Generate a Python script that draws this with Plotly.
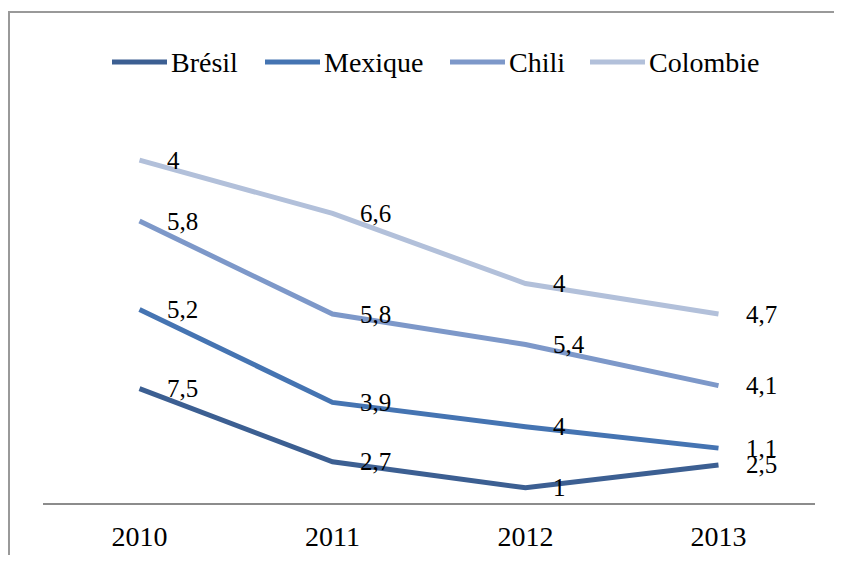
import numpy as np
import plotly.graph_objects as go

years = ["2010", "2011", "2012", "2013"]
series_names = ["Brésil", "Mexique", "Chili", "Colombie"]
bresil = [7.5, 2.7, 1, 2.5]
mexique = [5.2, 3.9, 4, 1.1]
chili = [5.8, 5.8, 5.4, 4.1]
colombie = [4, 6.6, 4, 4.7]
colors = ["#3C5F92", "#4574B2", "#7D98C9", "#B2C0DA"]

values = [bresil, mexique, chili, colombie]
cum = np.cumsum(np.array(values, dtype=float), axis=0)

FONT = "Liberation Serif"
W, H = 826, 547
L, R, T, B = 35, 19, 114, 52
pw, ph = W - L - R, H - T - B


def px(xp):
    return (xp - L) / pw


def py(yp):
    return (H - B - yp) / ph


fig = go.Figure()
annotations = []
shapes = []
for i, (name, vals, c, col) in enumerate(zip(series_names, values, cum, colors)):
    fig.add_trace(go.Scatter(
        x=list(range(len(years))), y=c, mode="lines", name=name,
        line=dict(color=col, width=5),
        hoverinfo="skip", showlegend=False,
    ))
    for j, (v, cy) in enumerate(zip(vals, c)):
        annotations.append(dict(
            x=j, y=cy, xref="x", yref="y",
            text=f"{v:g}".replace(".", ","),
            showarrow=False, xanchor="left", yanchor="middle",
            xshift=25, yshift=0,
            font=dict(family=FONT, size=25, color="#000000"),
        ))

# manual legend (line sample + label), positions in pixels
legend_x = [104, 257, 442, 582]
legend_y = 54
for name, col, lx in zip(series_names, colors, legend_x):
    shapes.append(dict(
        type="line", xref="paper", yref="paper",
        x0=px(lx), x1=px(lx + 55), y0=py(legend_y), y1=py(legend_y),
        line=dict(color=col, width=5),
    ))
    annotations.append(dict(
        x=px(lx + 57), y=py(legend_y), xref="paper", yref="paper",
        text=name, showarrow=False, xanchor="left", yanchor="middle",
        font=dict(family=FONT, size=28, color="#000000"),
    ))

shapes.append(dict(
    type="path", xref="paper", yref="paper",
    path=f"M {px(1)},{py(H + 20)} L {px(1)},{py(4)} L {px(W + 20)},{py(4)}",
    line=dict(color="#999999", width=2),
))

fig.update_layout(
    width=W, height=H,
    margin=dict(l=L, r=R, t=T, b=B, autoexpand=False),
    paper_bgcolor="white", plot_bgcolor="white",
    font=dict(family=FONT, size=24, color="#000000"),
    showlegend=False,
    xaxis=dict(
        tickmode="array", tickvals=list(range(len(years))), ticktext=years,
        range=[-0.5, 3.5], automargin=False,
        showgrid=False, zeroline=False,
        showline=True, linecolor="#8C8C8C", linewidth=2,
        ticks="", ticklabelstandoff=7,
        tickfont=dict(family=FONT, size=28),
    ),
    yaxis=dict(
        range=[0, 25], visible=False, showgrid=False, zeroline=False,
        automargin=False,
    ),
    annotations=annotations,
    shapes=shapes,
)

fig.write_html("out.html")
